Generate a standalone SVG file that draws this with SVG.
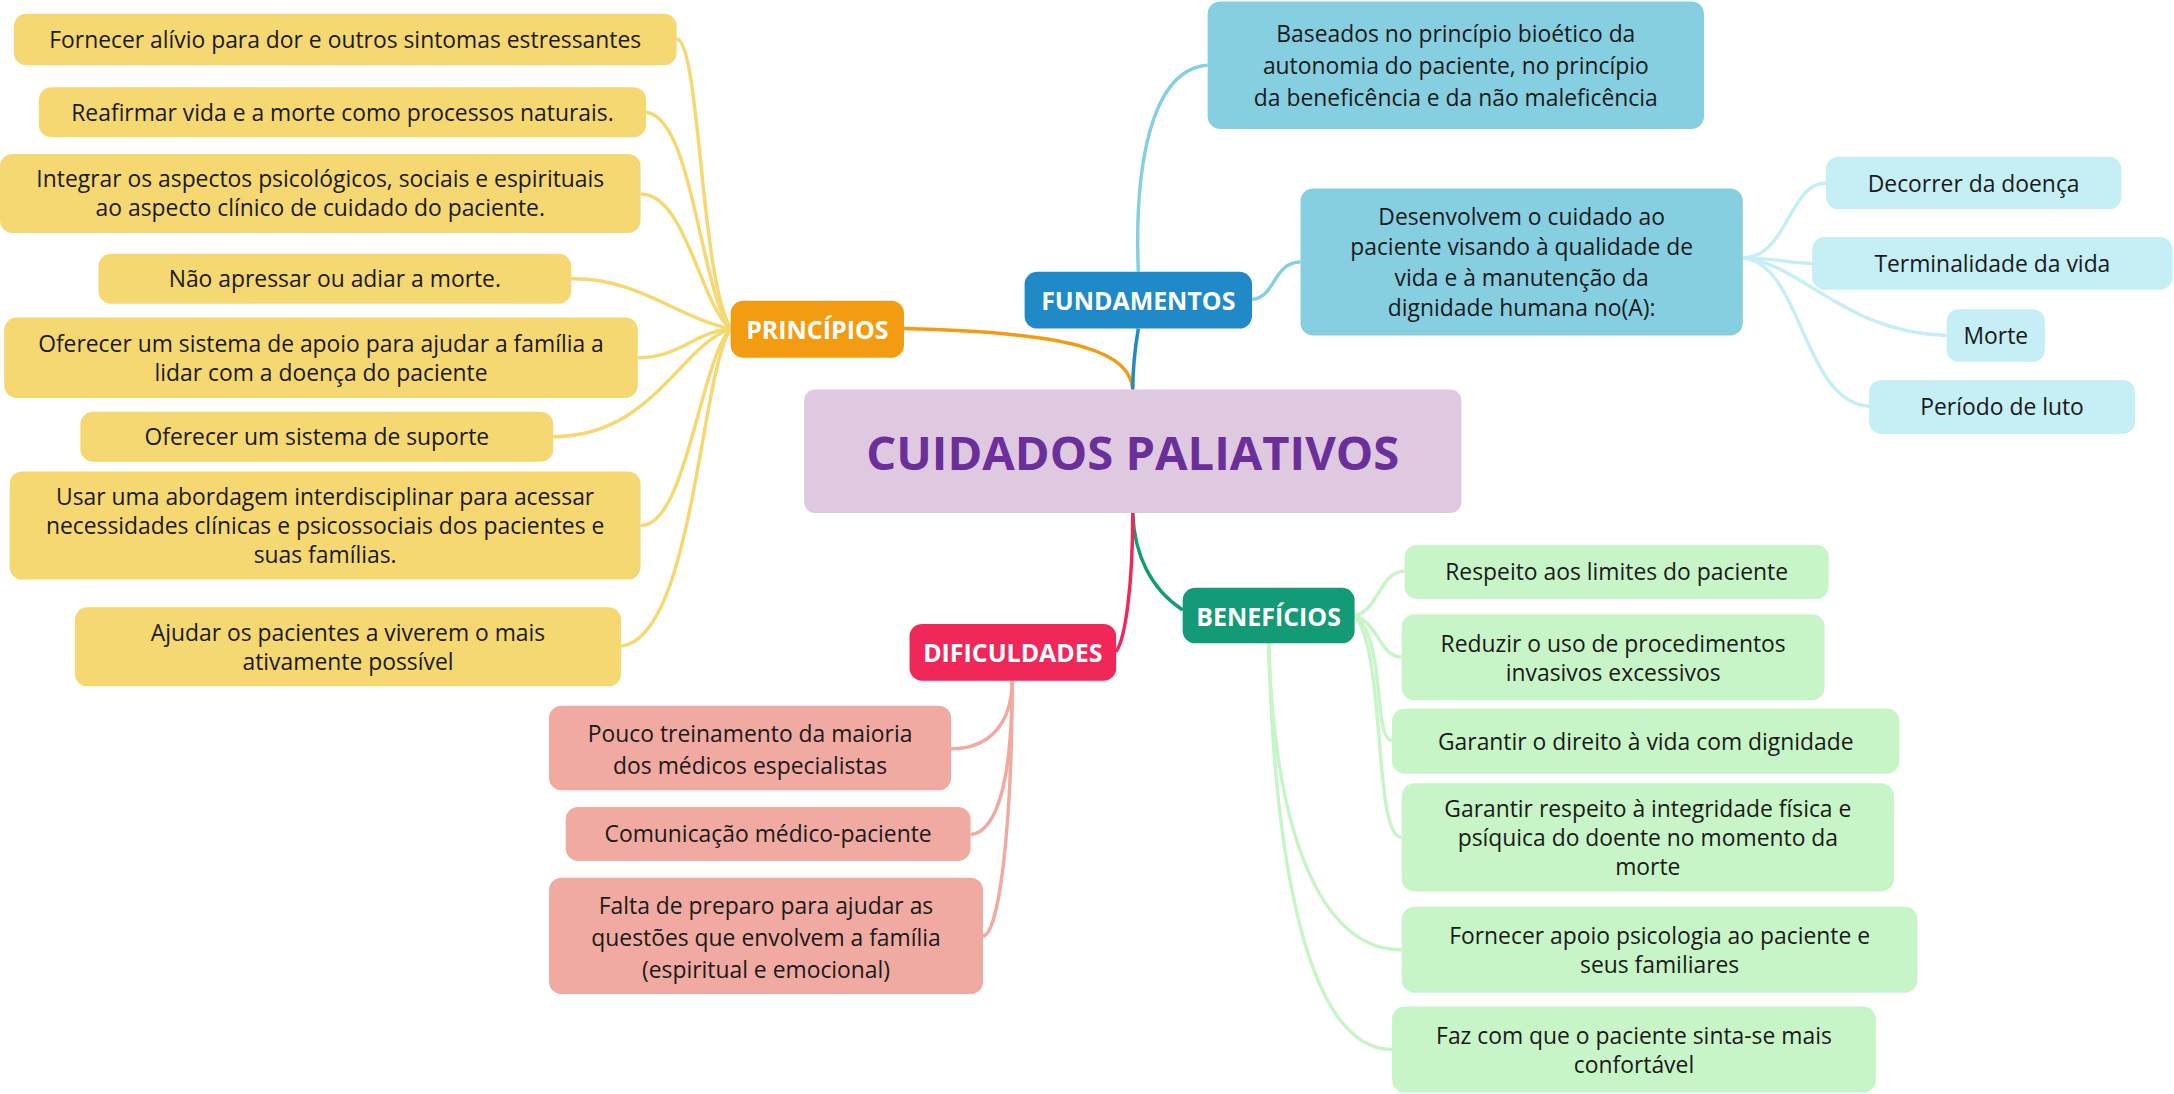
<svg xmlns="http://www.w3.org/2000/svg" width="2174" height="1094" viewBox="0 0 2174 1094">
<style>
text{font-family:"Open Sans","Noto Sans",sans-serif;text-anchor:middle;dominant-baseline:central}
.l{font-size:16.5px;fill:#1a1a1a}
.h{font-size:18px;font-weight:bold;fill:#fff}
.y{fill:#f5d872}.b{fill:#86cfe0}.c{fill:#c5eef5}.g{fill:#c8f5c8}.p{fill:#f1aaa2}
.cy{stroke:#f5d872}.cb{stroke:#86cfe0}.cc{stroke:#c5eef5}.cg{stroke:#c8f5c8}.cp{stroke:#f1aaa2}
path{fill:none;stroke-width:2.5}
</style>
<rect width="2174" height="1094" fill="#fff"/>
<g transform="scale(1.38648)">
<g id="connectors">
<path d="M652,237 C780,240 815,255 817,281" stroke="#f39c12" stroke-width="3.5"/>
<path d="M821,237 C818,255 817,265 817,281" stroke="#1f8ac7" stroke-width="3.5"/>
<path d="M817,370 C818,400 830,425 853,440" stroke="#139a76" stroke-width="3.5"/>
<path d="M817,370 C817,420 812,460 805,470" stroke="#f0285a" stroke-width="3.5"/>
<path class="cy" d="M527,237 C505,200 505,30 488,28"/>
<path class="cy" d="M527,237 C505,210 500,85 466,81"/>
<path class="cy" d="M527,237 C505,220 495,140 462,140"/>
<path class="cy" d="M527,237 C490,230 460,200 412,201"/>
<path class="cy" d="M527,237 C500,240 490,258 460,258"/>
<path class="cy" d="M527,237 C490,250 470,315 399,315"/>
<path class="cy" d="M527,237 C505,260 495,380 462,379"/>
<path class="cy" d="M527,237 C505,270 500,460 448,466"/>
<path class="cb" d="M821,196 C818,120 830,50 871,47"/>
<path class="cb" d="M903,216 C920,215 918,189 938,189"/>
<path class="cc" d="M1257,186 C1290,185 1290,132 1317,132"/>
<path class="cc" d="M1257,186 C1280,186 1290,190 1307,190"/>
<path class="cc" d="M1257,186 C1300,190 1330,240 1404,242"/>
<path class="cc" d="M1257,186 C1300,190 1300,290 1348,293"/>
<path class="cg" d="M977,444 C995,440 995,412 1013,412"/>
<path class="cg" d="M977,444 C995,450 995,474 1011,474"/>
<path class="cg" d="M977,444 C1000,460 990,534 1004,534"/>
<path class="cg" d="M977,444 C1000,470 990,604 1011,604"/>
<path class="cg" d="M915,464 C920,620 960,685 1011,685"/>
<path class="cg" d="M915,464 C920,650 950,757 1004,757"/>
<path class="cp" d="M730,491 C730,520 715,540 686,540"/>
<path class="cp" d="M730,491 C730,560 720,600 700,602"/>
<path class="cp" d="M730,491 C730,600 720,675 709,675"/>
</g>
<g id="center"><rect x="580" y="281" width="474" height="89" rx="8" fill="#dfc9e1"/><text x="817" y="326" font-size="34" font-weight="bold" fill="#6b2f9a">CUIDADOS PALIATIVOS</text></g>
<g id="principios"><rect x="527" y="217" width="125" height="41" rx="9" fill="#f39c12"/><text class="h" x="589.5" y="237.5">PRINCÍPIOS</text></g>
<g id="fundamentos"><rect x="739" y="196" width="164" height="41" rx="9" fill="#1f8ac7"/><text class="h" x="821" y="216.5">FUNDAMENTOS</text></g>
<g id="beneficios"><rect x="853" y="424" width="124" height="40" rx="9" fill="#139a76"/><text class="h" x="915" y="444">BENEFÍCIOS</text></g>
<g id="dificuldades"><rect x="656" y="450" width="149" height="41" rx="9" fill="#f0285a"/><text class="h" x="730.5" y="470.5">DIFICULDADES</text></g>
<g id="p1"><rect class="y" x="10" y="10" width="478" height="37" rx="9"/><text class="l" x="249" y="28.5">Fornecer alívio para dor e outros sintomas estressantes</text></g>
<g id="p2"><rect class="y" x="28" y="63" width="438" height="36" rx="9"/><text class="l" x="247" y="81">Reafirmar vida e a morte como processos naturais.</text></g>
<g id="p3"><rect class="y" x="0" y="111" width="462" height="57" rx="9"/><text class="l" x="231" y="129">Integrar os aspectos psicológicos, sociais e espirituais</text><text class="l" x="231" y="150">ao aspecto clínico de cuidado do paciente.</text></g>
<g id="p4"><rect class="y" x="71" y="183" width="341" height="36" rx="9"/><text class="l" x="241.5" y="201">Não apressar ou adiar a morte.</text></g>
<g id="p5"><rect class="y" x="3" y="229" width="457" height="58" rx="9"/><text class="l" x="231.5" y="248">Oferecer um sistema de apoio para ajudar a família a</text><text class="l" x="231.5" y="269">lidar com a doença do paciente</text></g>
<g id="p6"><rect class="y" x="58" y="297" width="341" height="36" rx="9"/><text class="l" x="228.5" y="315">Oferecer um sistema de suporte</text></g>
<g id="p7"><rect class="y" x="7" y="340" width="455" height="78" rx="9"/><text class="l" x="234.5" y="358">Usar uma abordagem interdisciplinar para acessar</text><text class="l" x="234.5" y="379">necessidades clínicas e psicossociais dos pacientes e</text><text class="l" x="234.5" y="400">suas famílias.</text></g>
<g id="p8"><rect class="y" x="54" y="438" width="394" height="57" rx="9"/><text class="l" x="251" y="456">Ajudar os pacientes a viverem o mais</text><text class="l" x="251" y="477">ativamente possível</text></g>
<g id="f1"><rect class="b" x="871" y="1" width="358" height="92" rx="9"/><text class="l" x="1050" y="24" font-size="17.5">Baseados no princípio bioético da</text><text class="l" x="1050" y="47" font-size="17.5">autonomia do paciente, no princípio</text><text class="l" x="1050" y="70" font-size="17.5">da beneficência e da não maleficência</text></g>
<g id="f2"><rect class="b" x="938" y="136" width="319" height="106" rx="9"/><text class="l" x="1097.5" y="156" font-size="17.5">Desenvolvem o cuidado ao</text><text class="l" x="1097.5" y="178" font-size="17.5">paciente visando à qualidade de</text><text class="l" x="1097.5" y="200" font-size="17.5">vida e à manutenção da</text><text class="l" x="1097.5" y="222" font-size="17.5">dignidade humana no(A):</text></g>
<g id="f3"><rect class="c" x="1317" y="113" width="213" height="38" rx="9"/><text class="l" x="1423.5" y="132" font-size="17.5">Decorrer da doença</text></g>
<g id="f4"><rect class="c" x="1307" y="171" width="260" height="38" rx="9"/><text class="l" x="1437" y="190" font-size="17.5">Terminalidade da vida</text></g>
<g id="f5"><rect class="c" x="1404" y="223" width="71" height="38" rx="9"/><text class="l" x="1439.5" y="242" font-size="17.5">Morte</text></g>
<g id="f6"><rect class="c" x="1348" y="274" width="192" height="39" rx="9"/><text class="l" x="1444" y="293.5" font-size="17.5">Período de luto</text></g>
<g id="b1"><rect class="g" x="1013" y="393" width="306" height="39" rx="9"/><text class="l" x="1166" y="412.5">Respeito aos limites do paciente</text></g>
<g id="b2"><rect class="g" x="1011" y="443" width="305" height="62" rx="9"/><text class="l" x="1163.5" y="464">Reduzir o uso de procedimentos</text><text class="l" x="1163.5" y="485">invasivos excessivos</text></g>
<g id="b3"><rect class="g" x="1004" y="511" width="366" height="47" rx="9"/><text class="l" x="1187" y="534.5">Garantir o direito à vida com dignidade</text></g>
<g id="b4"><rect class="g" x="1011" y="565" width="355" height="78" rx="9"/><text class="l" x="1188.5" y="583">Garantir respeito à integridade física e</text><text class="l" x="1188.5" y="604">psíquica do doente no momento da</text><text class="l" x="1188.5" y="625">morte</text></g>
<g id="b5"><rect class="g" x="1011" y="654" width="372" height="62" rx="9"/><text class="l" x="1197" y="675">Fornecer apoio psicologia ao paciente e</text><text class="l" x="1197" y="696">seus familiares</text></g>
<g id="b6"><rect class="g" x="1004" y="726" width="349" height="62" rx="9"/><text class="l" x="1178.5" y="747">Faz com que o paciente sinta-se mais</text><text class="l" x="1178.5" y="768">confortável</text></g>
<g id="d1"><rect class="p" x="396" y="509" width="290" height="61" rx="9"/><text class="l" x="541" y="529" font-size="18.5">Pouco treinamento da maioria</text><text class="l" x="541" y="552" font-size="18.5">dos médicos especialistas</text></g>
<g id="d2"><rect class="p" x="408" y="582" width="292" height="39" rx="9"/><text class="l" x="554" y="601.5" font-size="18.5">Comunicação médico-paciente</text></g>
<g id="d3"><rect class="p" x="396" y="633" width="313" height="84" rx="9"/><text class="l" x="552.5" y="653" font-size="18.5">Falta de preparo para ajudar as</text><text class="l" x="552.5" y="676" font-size="18.5">questões que envolvem a família</text><text class="l" x="552.5" y="699" font-size="18.5">(espiritual e emocional)</text></g>
</g>
</svg>
